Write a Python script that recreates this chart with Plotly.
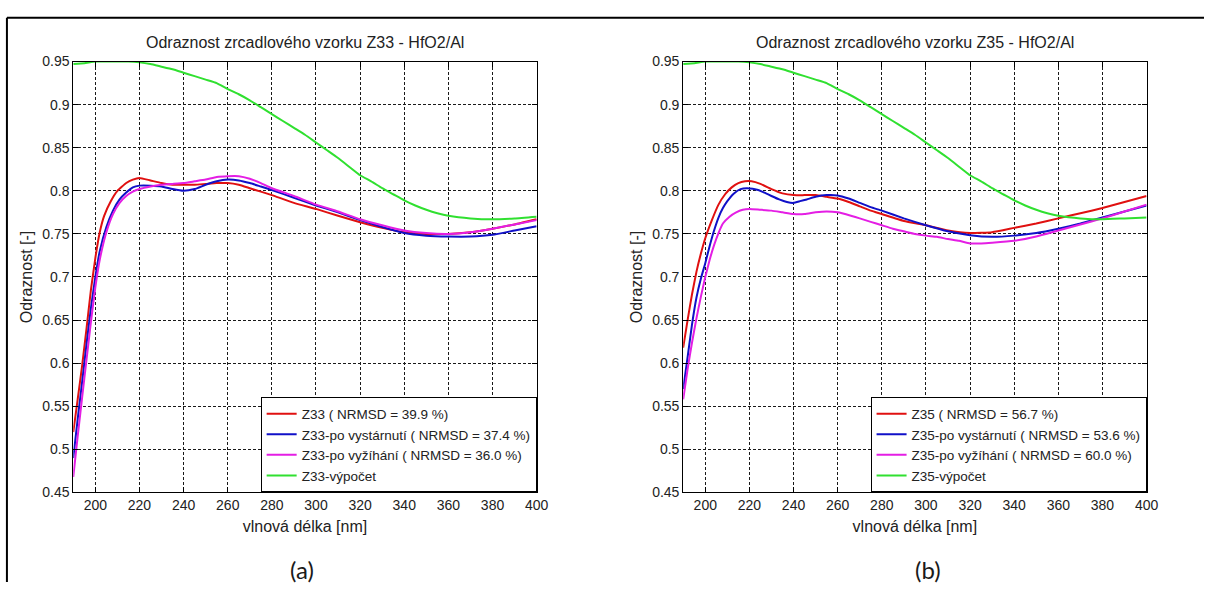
import plotly.graph_objects as go

# ---------------- Z33 (HfO2/Al) ----------------
wl_z33 = [190, 192, 194, 196, 198, 200, 202, 204, 207, 210, 214, 217, 220, 225, 230, 235,
          240, 245, 250, 255, 260, 265, 270, 275, 280, 290, 300, 310, 320, 330, 340, 350,
          360, 370, 380, 390, 400]
z33 = [0.520, 0.558, 0.597, 0.640, 0.685, 0.722, 0.752, 0.771, 0.788, 0.800, 0.809,
       0.813, 0.815, 0.812, 0.809, 0.807, 0.807, 0.807, 0.808, 0.809, 0.809, 0.807, 0.803,
       0.799, 0.795, 0.786, 0.779, 0.771, 0.7635, 0.757, 0.752, 0.750, 0.750, 0.752, 0.756,
       0.761, 0.767]

wl_z33_aged = [190, 192, 194, 196, 198, 200, 202, 205, 208, 211, 214, 217, 220, 225,
               230, 235, 240, 245, 250, 255, 260, 265, 270, 275, 280, 290, 300, 310, 320, 330,
               340, 350, 360, 370, 380, 390, 400]
z33_aged = [0.490, 0.535, 0.578, 0.622, 0.664, 0.700, 0.730, 0.758, 0.777, 0.790,
            0.798, 0.804, 0.806, 0.806, 0.805, 0.802, 0.800, 0.802, 0.807, 0.811, 0.813, 0.812,
            0.809, 0.805, 0.801, 0.792, 0.783, 0.775, 0.766, 0.758, 0.751, 0.748, 0.747, 0.747,
            0.749, 0.754, 0.759]

wl_z33_annealed = [190, 192, 194, 196, 198, 200, 202, 205, 208, 211, 214, 217, 220, 225,
                   230, 235, 240, 245, 250, 255, 260, 265, 270, 275, 280, 290, 300, 310, 320,
                   330, 340, 350, 360, 370, 380, 390, 400]
z33_annealed = [0.468, 0.515, 0.560, 0.604, 0.648, 0.688, 0.720, 0.752, 0.773, 0.786,
                0.794, 0.799, 0.802, 0.805, 0.807, 0.808, 0.809, 0.811, 0.813, 0.816, 0.817,
                0.817, 0.814, 0.809, 0.803, 0.794, 0.784, 0.776, 0.767, 0.760, 0.754, 0.751,
                0.750, 0.752, 0.756, 0.761, 0.766]

wl_calc = [190, 195, 200, 205, 210, 215, 220, 225, 230, 235, 240, 245, 250, 255, 260, 265, 270,
           275, 280, 285, 290, 295, 300, 305, 310, 315, 320, 325, 330, 335, 340, 345, 350, 355,
           360, 370, 380, 390, 400]
z33_calc = [0.947, 0.948, 0.950, 0.950, 0.950, 0.950, 0.949, 0.947, 0.944, 0.941, 0.937, 0.933,
            0.929, 0.925, 0.918, 0.912, 0.905, 0.897, 0.889, 0.881, 0.873, 0.865, 0.856, 0.847,
            0.838, 0.828, 0.818, 0.811, 0.803, 0.796, 0.789, 0.783, 0.778, 0.774, 0.771, 0.768,
            0.767, 0.768, 0.770]

# ---------------- Z35 (HfO2/Al) ----------------
wl_z35 = [190, 192, 194, 196, 198, 200, 203, 206, 209, 212, 215, 218, 221, 225, 230, 235,
          240, 245, 250, 255, 260, 265, 270, 275, 280, 290, 300, 310, 320, 330, 340, 350, 360,
          370, 380, 390, 400]
z35 = [0.618, 0.650, 0.680, 0.706, 0.727, 0.745, 0.766, 0.784, 0.796, 0.804, 0.809,
       0.811, 0.811, 0.808, 0.802, 0.797, 0.795, 0.795, 0.795, 0.793, 0.791, 0.787, 0.782,
       0.777, 0.773, 0.765, 0.760, 0.754, 0.751, 0.752, 0.757, 0.762, 0.768, 0.774, 0.780,
       0.787, 0.794]

wl_z35_aged = [190, 192, 194, 196, 198, 200, 202, 204, 206, 208, 210, 213, 216, 219,
               224, 227.5, 230, 233.5, 237, 240, 243, 246, 250, 255, 260, 265, 270, 275, 280,
               290, 300, 310, 320, 330, 340, 350, 360, 370, 380, 390, 400]
z35_aged = [0.570, 0.607, 0.645, 0.676, 0.698, 0.716, 0.736, 0.754, 0.769, 0.780, 0.788,
            0.797, 0.802, 0.803, 0.801, 0.797, 0.794, 0.790, 0.787, 0.786, 0.788, 0.790, 0.793,
            0.795, 0.7946, 0.791, 0.786, 0.781, 0.777, 0.768, 0.760, 0.753, 0.7485, 0.7466,
            0.748, 0.751, 0.756, 0.762, 0.769, 0.776, 0.783]

wl_z35_annealed = [190, 192, 194, 196, 198, 200, 202, 204, 206, 208, 211, 214, 217, 220, 225,
                   230, 235, 240, 245, 250, 255, 260, 266, 270, 275, 280, 285, 290, 295, 300,
                   305, 310, 315, 320, 325, 330, 340, 350, 360, 370, 380, 390, 400]
z35_annealed = [0.558, 0.593, 0.624, 0.652, 0.677, 0.700, 0.720, 0.737, 0.751, 0.762, 0.770,
                0.775, 0.778, 0.779, 0.778, 0.777, 0.775, 0.773, 0.773, 0.775, 0.776, 0.775,
                0.771, 0.768, 0.764, 0.760, 0.756, 0.753, 0.750, 0.748, 0.7466, 0.744, 0.742,
                0.739, 0.739, 0.7398, 0.742, 0.747, 0.754, 0.761, 0.768, 0.776, 0.784]

z35_calc = [0.947, 0.948, 0.950, 0.950, 0.950, 0.950, 0.949, 0.947, 0.944, 0.941, 0.937, 0.933,
            0.929, 0.925, 0.918, 0.912, 0.905, 0.897, 0.889, 0.881, 0.873, 0.865, 0.856, 0.847,
            0.838, 0.828, 0.818, 0.811, 0.803, 0.796, 0.789, 0.783, 0.778, 0.774, 0.771, 0.768,
            0.767, 0.768, 0.769]

x_ticks = [200, 220, 240, 260, 280, 300, 320, 340, 360, 380, 400]
y_ticks = [0.45, 0.5, 0.55, 0.6, 0.65, 0.7, 0.75, 0.8, 0.85, 0.9, 0.95]
y_tick_text = ["0.45", "0.5", "0.55", "0.6", "0.65", "0.7", "0.75", "0.8", "0.85", "0.9", "0.95"]

RED, BLUE, MAGENTA, GREEN = "#e01010", "#1010c8", "#e41ee4", "#30e030"
FONT = "Liberation Sans, Arial, sans-serif"
TXT = "#222222"

panels = [
    dict(sample="Z33", xa="x", ya="y", legend="legend",
         series=[(wl_z33, z33, "Z33 ( NRMSD = 39.9 %)", RED),
                 (wl_z33_aged, z33_aged, "Z33-po vystárnutí ( NRMSD = 37.4 %)", BLUE),
                 (wl_z33_annealed, z33_annealed, "Z33-po vyžíhání ( NRMSD = 36.0 %)", MAGENTA),
                 (wl_calc, z33_calc, "Z33-výpočet", GREEN)]),
    dict(sample="Z35", xa="x2", ya="y2", legend="legend2",
         series=[(wl_z35, z35, "Z35 ( NRMSD = 56.7 %)", RED),
                 (wl_z35_aged, z35_aged, "Z35-po vystárnutí ( NRMSD = 53.6 %)", BLUE),
                 (wl_z35_annealed, z35_annealed, "Z35-po vyžíhání ( NRMSD = 60.0 %)", MAGENTA),
                 (wl_calc, z35_calc, "Z35-výpočet", GREEN)]),
]

fig = go.Figure()
for p in panels:
    for wl, vals, name, color in p["series"]:
        fig.add_trace(go.Scatter(
            x=wl, y=vals, name=name, mode="lines",
            line=dict(color=color, width=2, shape="spline", smoothing=0.4),
            xaxis=p["xa"], yaxis=p["ya"], legend=p["legend"]))

W, H = 1216, 590
# plot-area pixel boxes for the two panels
boxes = [(74, 542), (690, 1158)]
top_px, bot_px = 55, 498
y_dom = [1 - bot_px / H, 1 - top_px / H]

def axis_style():
    return dict(showline=True, linecolor="black", linewidth=1, mirror="ticks",
                ticks="inside", ticklen=5, tickcolor="black",
                showgrid=True, gridcolor="#1a1a1a", griddash="3px,2px", gridwidth=1,
                zeroline=False, tickfont=dict(family=FONT, size=14, color=TXT))

layout = dict(width=W, height=H, margin=dict(l=0, r=0, t=0, b=0),
              paper_bgcolor="white", plot_bgcolor="white", showlegend=True)

annotations = []
for i, (x0, x1) in enumerate(boxes):
    sfx = "" if i == 0 else "2"
    xa = axis_style()
    xa.update(domain=[x0 / W, x1 / W], range=[190, 400], tickvals=x_ticks,
              anchor="y" + sfx,
              title=dict(text="vlnová délka [nm]", font=dict(family=FONT, size=16, color=TXT),
                         standoff=8))
    ya = axis_style()
    ya.update(domain=y_dom, range=[0.45, 0.95], tickvals=y_ticks, ticktext=y_tick_text,
              anchor="x" + sfx,
              title=dict(text="Odraznost [-]", font=dict(family=FONT, size=16, color=TXT),
                         standoff=5))
    layout["xaxis" + sfx] = xa
    layout["yaxis" + sfx] = ya
    layout["legend" + sfx] = dict(
        x=x1 / W, y=1 - bot_px / H, xanchor="right", yanchor="bottom",
        bgcolor="white", bordercolor="black", borderwidth=1,
        font=dict(family=FONT, size=13.5, color=TXT), tracegroupgap=0)
    annotations.append(dict(
        text=f"Odraznost zrcadlového vzorku {panels[i]['sample']} - HfO2/Al",
        x=(x0 + x1) / 2 / W, y=1 - 35 / H, xref="paper", yref="paper",
        xanchor="center", yanchor="middle", showarrow=False,
        font=dict(family=FONT, size=16, color=TXT)))

annotations.append(dict(text="(a)", x=305 / W, y=1 - 577 / H, xref="paper", yref="paper",
                        xanchor="center", yanchor="middle", showarrow=False,
                        font=dict(family="Lato, Open Sans, sans-serif", size=24, color="#1a1a1a")))
annotations.append(dict(text="(b)", x=937 / W, y=1 - 577 / H, xref="paper", yref="paper",
                        xanchor="center", yanchor="middle", showarrow=False,
                        font=dict(family="Lato, Open Sans, sans-serif", size=24, color="#1a1a1a")))
layout["annotations"] = annotations

# outer frame (top and left edges)
layout["shapes"] = [
    dict(type="line", xref="paper", yref="paper", x0=7 / W, x1=1, y0=1 - 10 / H, y1=1 - 10 / H,
         line=dict(color="black", width=2)),
    dict(type="line", xref="paper", yref="paper", x0=7 / W, x1=7 / W, y0=0, y1=1 - 10 / H,
         line=dict(color="black", width=2)),
]

fig.update_layout(**layout)
fig.write_html("out.html")
